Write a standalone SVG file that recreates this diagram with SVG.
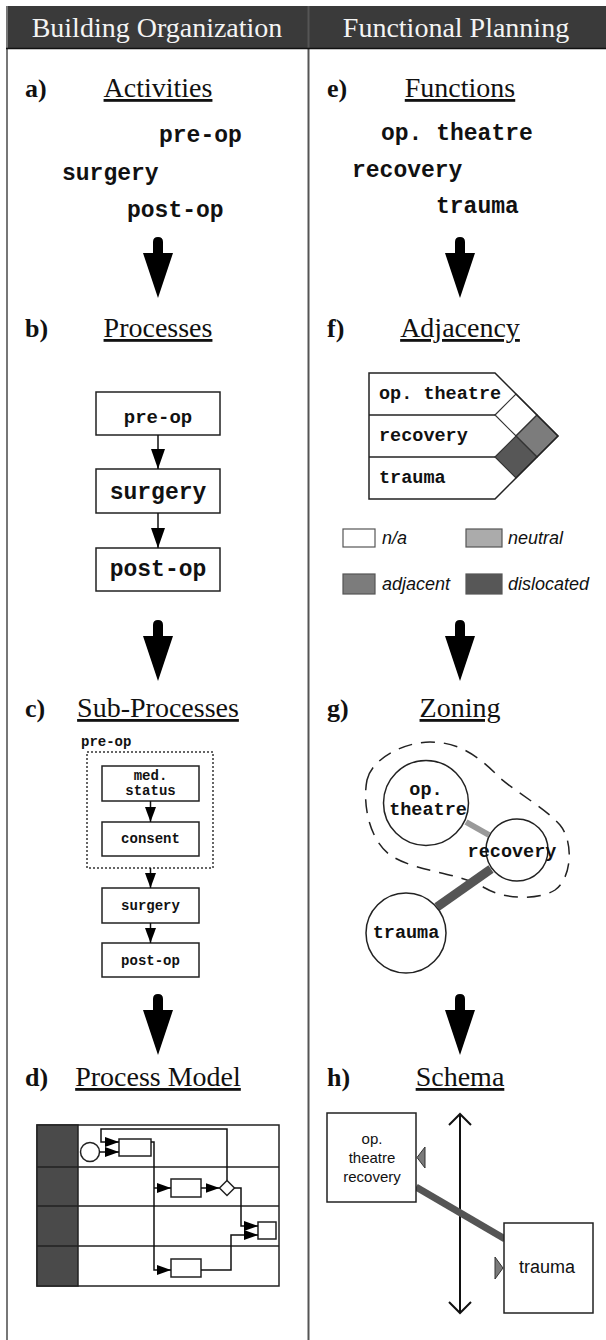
<svg xmlns="http://www.w3.org/2000/svg" width="606" height="1340" viewBox="0 0 606 1340">
  <style>
    .hdr { font-family: "Liberation Serif", serif; font-size: 28px; fill: #f4f4f4; text-anchor: middle; }
    .lbl { font-family: "Liberation Serif", serif; font-size: 26px; font-weight: bold; fill: #111; }
    .ttl { font-family: "Liberation Serif", serif; font-size: 28px; fill: #111; text-anchor: middle; text-decoration: underline; }
    .mono { font-family: "Liberation Mono", "Courier New", monospace; font-weight: bold; fill: #111; }
    .sans { font-family: "Liberation Sans", Arial, sans-serif; fill: #111; }
    .box { fill: #fff; stroke: #222; stroke-width: 1.5; }
    .ln { fill: none; stroke: #111; stroke-width: 1.5; }
    .big { fill: #000; }
  </style>
  <defs>
    <marker id="mB" markerUnits="userSpaceOnUse" markerWidth="20" markerHeight="14" refX="20" refY="7" orient="auto">
      <path d="M0,0 L20,7 L0,14 z" fill="#000"/>
    </marker>
    <marker id="mC" markerUnits="userSpaceOnUse" markerWidth="15" markerHeight="11" refX="15" refY="5.5" orient="auto">
      <path d="M0,0 L15,5.5 L0,11 z" fill="#000"/>
    </marker>
    <marker id="mD" markerUnits="userSpaceOnUse" markerWidth="14" markerHeight="10" refX="14" refY="5" orient="auto">
      <path d="M0,0 L14,5 L0,10 z" fill="#000"/>
    </marker>
    <marker id="mV" markerUnits="userSpaceOnUse" markerWidth="14" markerHeight="24" refX="12" refY="12" orient="auto-start-reverse">
      <path d="M1,1 L12,12 L1,23" fill="none" stroke="#111" stroke-width="2"/>
    </marker>
    <!-- big step arrow: shaft with rounded top and a long triangular head, tip at 0,0 -->
    <path id="stepArrow" d="M-5,-56 Q-5,-61 0,-61 Q5,-61 5,-56 L5,-45 L15,-45 L0,0 L-15,-45 L-5,-45 Z"/>
  </defs>

  <rect x="0" y="0" width="606" height="1340" fill="#fff"/>

  <!-- frame and column headers -->
  <g id="frame">
    <rect x="6" y="6" width="600" height="42" fill="#3a3a3a"/>
    <line x1="7" y1="6" x2="7" y2="1340" stroke="#777" stroke-width="2"/>
    <line x1="308.5" y1="6" x2="308.5" y2="1340" stroke="#555" stroke-width="2"/>
    <line x1="6" y1="48.5" x2="606" y2="48.5" stroke="#111" stroke-width="1.5"/>
    <text class="hdr" x="157" y="37">Building Organization</text>
    <text class="hdr" x="456" y="37">Functional Planning</text>
  </g>

  <!-- section titles -->
  <g id="titles">
    <text class="lbl" x="25" y="97">a)</text>
    <text class="ttl" x="158" y="97">Activities</text>
    <text class="lbl" x="25" y="337">b)</text>
    <text class="ttl" x="158" y="337">Processes</text>
    <text class="lbl" x="25" y="717">c)</text>
    <text class="ttl" x="158" y="717">Sub-Processes</text>
    <text class="lbl" x="25" y="1086">d)</text>
    <text class="ttl" x="158" y="1086">Process Model</text>
    <text class="lbl" x="327" y="97">e)</text>
    <text class="ttl" x="460" y="97">Functions</text>
    <text class="lbl" x="327" y="337">f)</text>
    <text class="ttl" x="460" y="337">Adjacency</text>
    <text class="lbl" x="327" y="717">g)</text>
    <text class="ttl" x="460" y="717">Zoning</text>
    <text class="lbl" x="327" y="1086">h)</text>
    <text class="ttl" x="460" y="1086">Schema</text>
  </g>

  <!-- step arrows between stages -->
  <g id="step-arrows" class="big">
    <use href="#stepArrow" x="158" y="298"/>
    <use href="#stepArrow" x="158" y="681"/>
    <use href="#stepArrow" x="158" y="1055"/>
    <use href="#stepArrow" x="460" y="298"/>
    <use href="#stepArrow" x="460" y="681"/>
    <use href="#stepArrow" x="460" y="1055"/>
  </g>

  <!-- a) activities -->
  <g id="activities" class="mono" font-size="23">
    <text x="159" y="142">pre-op</text>
    <text x="62" y="180">surgery</text>
    <text x="127" y="217">post-op</text>
  </g>

  <!-- e) functions -->
  <g id="functions" class="mono" font-size="23">
    <text x="381" y="140">op. theatre</text>
    <text x="352" y="177">recovery</text>
    <text x="436" y="213">trauma</text>
  </g>

  <!-- b) processes -->
  <g id="proc-preop">
    <rect class="box" x="96" y="392" width="124" height="43"/>
    <text class="mono" font-size="19" x="158" y="423" text-anchor="middle">pre-op</text>
  </g>
  <g id="proc-surgery">
    <rect class="box" x="96" y="469" width="124" height="44"/>
    <text class="mono" font-size="23" x="158" y="499" text-anchor="middle">surgery</text>
  </g>
  <g id="proc-postop">
    <rect class="box" x="96" y="548" width="124" height="43"/>
    <text class="mono" font-size="23" x="158" y="576" text-anchor="middle">post-op</text>
  </g>

  <!-- c) sub-processes -->
  <g id="sub-preop">
    <text class="mono" font-size="14" x="81" y="746">pre-op</text>
    <rect x="87" y="752" width="126" height="116" fill="none" stroke="#333" stroke-width="1.5" stroke-dasharray="2 2"/>
  </g>
  <g id="sub-medstatus">
    <rect class="box" x="102" y="766" width="97" height="35"/>
    <text class="mono" font-size="14" x="150.5" y="780" text-anchor="middle">med.</text>
    <text class="mono" font-size="14" x="150.5" y="795" text-anchor="middle">status</text>
  </g>
  <g id="sub-consent">
    <rect class="box" x="102" y="822" width="97" height="34"/>
    <text class="mono" font-size="14" x="150.5" y="843" text-anchor="middle">consent</text>
  </g>
  <g id="sub-surgery">
    <rect class="box" x="102" y="888" width="97" height="35"/>
    <text class="mono" font-size="14" x="150.5" y="910" text-anchor="middle">surgery</text>
  </g>
  <g id="sub-postop">
    <rect class="box" x="102" y="943" width="97" height="34"/>
    <text class="mono" font-size="14" x="150.5" y="965" text-anchor="middle">post-op</text>
  </g>

  <!-- d) process model (swimlanes) -->
  <g id="pm-pool">
    <rect x="37" y="1125" width="242" height="161" fill="#fff" stroke="#222" stroke-width="1.5"/>
    <rect x="37" y="1125" width="41" height="161" fill="#4a4a4a" stroke="#222" stroke-width="1.5"/>
    <line x1="37" y1="1167" x2="279" y2="1167" stroke="#222" stroke-width="1.5"/>
    <line x1="37" y1="1206" x2="279" y2="1206" stroke="#222" stroke-width="1.5"/>
    <line x1="37" y1="1246" x2="279" y2="1246" stroke="#222" stroke-width="1.5"/>
  </g>
  <g id="pm-start"><circle class="box" cx="90" cy="1152" r="9.5"/></g>
  <g id="pm-task1"><rect class="box" x="119" y="1139" width="32" height="17"/></g>
  <g id="pm-task2"><rect class="box" x="171" y="1179" width="30" height="18"/></g>
  <g id="pm-gateway"><path class="box" d="M227,1180.5 L234.5,1188 L227,1195.5 L219.5,1188 Z"/></g>
  <g id="pm-task3"><rect class="box" x="258" y="1222" width="18" height="17"/></g>
  <g id="pm-task4"><rect class="box" x="171" y="1259" width="30" height="18"/></g>

  <!-- f) adjacency matrix -->
  <g id="adjacency">
    <path d="M495,415 L516,394 L537,415 L516,436 Z" fill="#fff" stroke="#333" stroke-width="1.2"/>
    <path d="M516,436 L537,415 L558,436 L537,457 Z" fill="#7c7c7c" stroke="#333" stroke-width="1.2"/>
    <path d="M495,457 L516,436 L537,457 L516,478 Z" fill="#575757" stroke="#333" stroke-width="1.2"/>
    <path d="M369,373 L495,373 L558,436 L495,499 L369,499 Z" fill="none" stroke="#222" stroke-width="1.5"/>
    <line x1="369" y1="415" x2="495" y2="415" stroke="#222" stroke-width="1.5"/>
    <line x1="369" y1="457" x2="495" y2="457" stroke="#222" stroke-width="1.5"/>
    <text class="mono" font-size="18.5" x="379" y="399">op. theatre</text>
    <text class="mono" font-size="18.5" x="379" y="441">recovery</text>
    <text class="mono" font-size="18.5" x="379" y="483">trauma</text>
  </g>
  <g id="legend" class="sans" font-size="18" font-style="italic">
    <rect x="343" y="529" width="32" height="18" fill="#fff" stroke="#555" stroke-width="1.2"/>
    <text x="382" y="544">n/a</text>
    <rect x="466" y="529" width="36" height="18" fill="#ababab" stroke="#555" stroke-width="1.2"/>
    <text x="508" y="544">neutral</text>
    <rect x="343" y="574" width="32" height="20" fill="#7c7c7c" stroke="#555" stroke-width="1.2"/>
    <text x="382" y="590">adjacent</text>
    <rect x="466" y="574" width="36" height="20" fill="#575757" stroke="#555" stroke-width="1.2"/>
    <text x="508" y="590">dislocated</text>
  </g>

  <!-- g) zoning -->
  <g id="zone">
    <path d="M367,780 C372,758 405,742 430,742 C455,742 475,752 500,778 C520,795 545,808 560,825 C574,842 572,878 555,890 C540,900 505,900 485,888 C460,873 420,872 395,858 C370,845 362,805 367,780 Z" fill="none" stroke="#222" stroke-width="1.5" stroke-dasharray="14 9"/>
  </g>
  <g id="zone-links">
    <line x1="466" y1="822" x2="489" y2="835" stroke="#9a9a9a" stroke-width="6"/>
    <line x1="491" y1="869" x2="437" y2="907" stroke="#555" stroke-width="9"/>
  </g>
  <g id="zone-optheatre">
    <circle cx="426" cy="803" r="42.5" fill="none" stroke="#222" stroke-width="1.5"/>
    <text class="mono" font-size="18.5" x="426" y="795" text-anchor="middle">op.</text>
    <text class="mono" font-size="18.5" x="428" y="815" text-anchor="middle">theatre</text>
  </g>
  <g id="zone-recovery">
    <circle cx="517" cy="850" r="31" fill="none" stroke="#222" stroke-width="1.5"/>
    <text class="mono" font-size="18.5" x="512" y="857" text-anchor="middle">recovery</text>
  </g>
  <g id="zone-trauma">
    <circle cx="406" cy="933" r="40" fill="#fff" stroke="#222" stroke-width="1.5"/>
    <text class="mono" font-size="18.5" x="406" y="938" text-anchor="middle">trauma</text>
  </g>

  <!-- h) schema -->
  <g id="schema-axis">
    <line x1="460" y1="1114" x2="460" y2="1313" stroke="#111" stroke-width="2" marker-start="url(#mV)" marker-end="url(#mV)"/>
  </g>
  <g id="schema-link">
    <line x1="416" y1="1187" x2="505" y2="1239" stroke="#555" stroke-width="7"/>
  </g>
  <g id="schema-optheatre-recovery">
    <rect class="box" x="327" y="1113" width="89" height="89"/>
    <g class="sans" font-size="15" text-anchor="middle">
      <text x="372" y="1144">op.</text>
      <text x="372" y="1163">theatre</text>
      <text x="372" y="1182">recovery</text>
    </g>
    <path d="M417,1157.5 L425,1147 L425,1168 Z" fill="#7a7a7a" stroke="#333" stroke-width="1"/>
  </g>
  <g id="schema-trauma">
    <rect class="box" x="504" y="1223" width="89" height="90"/>
    <text class="sans" font-size="18" x="547" y="1273" text-anchor="middle">trauma</text>
    <path d="M503,1268 L495,1257 L495,1279 Z" fill="#7a7a7a" stroke="#333" stroke-width="1"/>
  </g>

  <!-- connectors -->
  <g id="connectors" class="ln">
    <line x1="158" y1="435" x2="158" y2="469" marker-end="url(#mB)"/>
    <line x1="158" y1="513" x2="158" y2="548" marker-end="url(#mB)"/>
    <line x1="150.5" y1="801" x2="150.5" y2="822" marker-end="url(#mC)"/>
    <line x1="150.5" y1="868" x2="150.5" y2="888" marker-end="url(#mC)"/>
    <line x1="150.5" y1="923" x2="150.5" y2="943" marker-end="url(#mC)"/>
    <path d="M99.5,1152 H119" marker-end="url(#mD)"/>
    <path d="M227,1180.5 V1129 H101 V1142 H119" marker-end="url(#mD)"/>
    <path d="M151,1142 H154 V1270 H171" marker-end="url(#mD)"/>
    <path d="M154,1188 H171" marker-end="url(#mD)"/>
    <path d="M201,1188 H219.5" marker-end="url(#mD)"/>
    <path d="M234.5,1188 H241 V1226 H258" marker-end="url(#mD)"/>
    <path d="M201,1270 H231 V1235 H258" marker-end="url(#mD)"/>
  </g>
</svg>
